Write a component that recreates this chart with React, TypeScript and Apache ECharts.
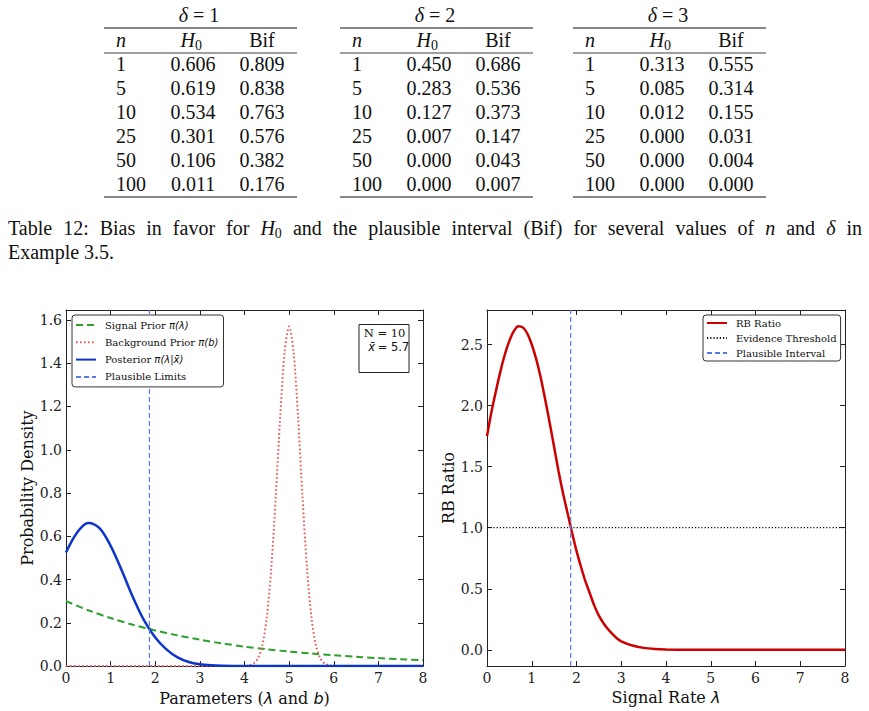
import React, { useEffect, useRef } from "react";
import * as echarts from "echarts";

const PAGE_W = 869;
const PAGE_H = 711;

// ---- Table 12 values ----
const nValues = [1, 5, 10, 25, 50, 100];
const deltaValues = [1, 2, 3];
const h0ByDelta = [
  [0.606, 0.619, 0.534, 0.301, 0.106, 0.011],
  [0.45, 0.283, 0.127, 0.007, 0.0, 0.0],
  [0.313, 0.085, 0.012, 0.0, 0.0, 0.0],
];
const bifByDelta = [
  [0.809, 0.838, 0.763, 0.576, 0.382, 0.176],
  [0.686, 0.536, 0.373, 0.147, 0.043, 0.007],
  [0.555, 0.314, 0.155, 0.031, 0.004, 0.0],
];

// ---- Left panel: priors and posterior ----
const signalPriorX = [0, 0.5, 1, 1.5, 2, 2.5, 3, 3.5, 4, 4.5, 5, 5.5, 6, 6.5, 7, 7.5, 8];
const signalPrior = [0.3, 0.258, 0.222, 0.191, 0.165, 0.142, 0.122, 0.105, 0.09, 0.078, 0.067, 0.058, 0.05, 0.043, 0.037, 0.032, 0.027];

const backgroundX = [0, 1, 2, 3, 4, 4.1, 4.2, 4.3, 4.4, 4.5, 4.6, 4.7, 4.8, 4.9, 5.0, 5.1, 5.2, 5.3, 5.4, 5.5, 5.6, 5.7, 5.8, 5.9, 6, 7, 8];
const backgroundPrior = [0, 0, 0, 0, 0, 0.003, 0.011, 0.035, 0.096, 0.226, 0.454, 0.782, 1.151, 1.452, 1.57, 1.452, 1.151, 0.782, 0.454, 0.226, 0.096, 0.035, 0.011, 0.003, 0, 0, 0];

const posteriorX = [0, 0.25, 0.5, 0.75, 1, 1.25, 1.5, 1.75, 2, 2.25, 2.5, 2.75, 3, 3.25, 3.5, 4, 5, 6, 7, 8];
const posterior = [0.525, 0.618, 0.662, 0.638, 0.556, 0.442, 0.318, 0.211, 0.132, 0.077, 0.04, 0.019, 0.0085, 0.0035, 0.0015, 0.0002, 0, 0, 0, 0];

const plausibleLimit = 1.87;
const sampleSize = 10;
const sampleMean = 5.7;

// ---- Right panel: relative belief ratio ----
const rbX = [0, 0.1, 0.2, 0.3, 0.4, 0.5, 0.6, 0.7, 0.8, 0.9, 1.0, 1.1, 1.2, 1.3, 1.4, 1.5, 1.6, 1.7, 1.8, 1.9, 2.0, 2.1, 2.2, 2.3, 2.4, 2.5, 2.6, 2.7, 2.8, 2.9, 3.0, 3.25, 3.5, 3.75, 4, 4.5, 5, 6, 7, 8];
const rbRatio = [1.75, 1.95, 2.12, 2.28, 2.42, 2.53, 2.61, 2.65, 2.64, 2.59, 2.5, 2.38, 2.23, 2.05, 1.86, 1.66, 1.46, 1.28, 1.12, 0.96, 0.81, 0.68, 0.56, 0.46, 0.36, 0.28, 0.22, 0.17, 0.13, 0.095, 0.07, 0.035, 0.016, 0.007, 0.003, 0.0005, 0, 0, 0, 0];
const evidenceThreshold = 1;

const leftTicks = [0, 0.2, 0.4, 0.6, 0.8, 1.0, 1.2, 1.4, 1.6];
const rightTicks = [0, 0.5, 1.0, 1.5, 2.0, 2.5];

const LEFT_Y = [0, 1.646];
const RIGHT_Y = [-0.1325, 2.7825];

const SERIF = "DejaVu Serif";
const MATH = "DejaVu Sans";
const TEX = "Liberation Serif";
const INK = "#222";

const pairs = (xs: number[], ys: number[]) => xs.map((x, i) => [x, ys[i]]);

const richStyles = (size: number, lh?: number) => ({
  r: { fontFamily: SERIF, fontSize: size, color: "#111", lineHeight: lh },
  m: { fontFamily: MATH, fontStyle: "italic", fontSize: size, color: "#111", lineHeight: lh },
});

const legendRich: Record<string, string> = {
  "Signal Prior π(λ)": "{r|Signal Prior }{m|π(λ)}",
  "Background Prior π(b)": "{r|Background Prior }{m|π(b)}",
  "Posterior π(λ|x̄)": "{r|Posterior }{m|π(λ|x̄)}",
  "Plausible Limits": "{r|Plausible Limits}",
  "RB Ratio": "{r|RB Ratio}",
  "Evidence Threshold": "{r|Evidence Threshold}",
  "Plausible Interval": "{r|Plausible Interval}",
};

function xAxes(grid: number, name: string) {
  const common = {
    gridIndex: grid,
    type: "value",
    min: 0,
    max: 8,
    interval: 1,
    splitLine: { show: false },
    axisLine: { show: true, onZero: false, lineStyle: { color: INK, width: 1 } },
    axisTick: { show: true, inside: true, length: 5, lineStyle: { color: INK } },
  };
  return [
    {
      ...common,
      position: "bottom",
      axisLabel: { show: true, fontFamily: SERIF, fontSize: 14, color: INK, margin: 5 },
      name,
      nameLocation: "middle",
      nameGap: 19,
      nameTextStyle: { fontFamily: SERIF, fontSize: 16, color: "#111", rich: richStyles(16) },
    },
    { ...common, position: "top", axisLabel: { show: false } },
  ];
}

function yAxes(grid: number, ext: number[], ticks: number[], name: string, gap: number) {
  const common = {
    gridIndex: grid,
    type: "value",
    min: ext[0],
    max: ext[1],
    splitLine: { show: false },
    axisLine: { show: true, onZero: false, lineStyle: { color: INK, width: 1 } },
    axisTick: { show: true, inside: true, length: 5, customValues: ticks, lineStyle: { color: INK } },
  };
  return [
    {
      ...common,
      position: "left",
      axisLabel: {
        show: true,
        customValues: ticks,
        fontFamily: SERIF,
        fontSize: 14,
        color: INK,
        margin: 4,
        formatter: (v: number) => v.toFixed(1),
      },
      name,
      nameLocation: "middle",
      nameGap: gap,
      nameTextStyle: { fontFamily: SERIF, fontSize: 16, color: "#111" },
    },
    { ...common, position: "right", axisLabel: { show: false } },
  ];
}

type Piece = { t: string; k: "r" | "i" | "s" };

function buildTextGraphics(): any[] {
  const g: any[] = [];
  const txt = (
    text: string,
    x: number,
    y: number,
    size: number,
    align: string,
    italic = false,
    family = TEX
  ) => ({
    type: "text",
    x,
    y,
    style: {
      text,
      fontFamily: family,
      fontSize: size,
      fontStyle: italic ? "italic" : "normal",
      fill: "#111",
      align,
      textAlign: align,
      verticalAlign: "middle",
      textVerticalAlign: "middle",
    },
  });
  const rule = (x1: number, x2: number, y: number, w: number) => ({
    type: "line",
    shape: { x1, y1: y, x2, y2: y },
    style: { stroke: "#111", lineWidth: w },
  });

  // three booktabs tables
  const tableLeft = [104, 340, 573];
  const tableWidth = 193;
  const rowY = [64, 88, 112, 136, 160, 184];
  deltaValues.forEach((d, ti) => {
    const L = tableLeft[ti];
    g.push(txt("δ", L + 84, 15, 20, "right", true));
    g.push(txt(` = ${d}`, L + 84, 15, 20, "left"));
    g.push(rule(L, L + tableWidth, 28, 1.2));
    g.push(rule(L, L + tableWidth, 53, 0.8));
    g.push(rule(L, L + tableWidth, 197, 1.2));
    g.push(txt("n", L + 12, 40, 20, "left", true));
    g.push(txt("H", L + 91, 40, 20, "right", true));
    g.push(txt("0", L + 91, 45, 14, "left"));
    g.push(txt("Bif", L + 158, 40, 20, "center"));
    nValues.forEach((n, ri) => {
      g.push(txt(String(n), L + 12, rowY[ri], 20, "left"));
      g.push(txt(h0ByDelta[ti][ri].toFixed(3), L + 89, rowY[ri], 20, "center"));
      g.push(txt(bifByDelta[ti][ri].toFixed(3), L + 158, rowY[ri], 20, "center"));
    });
  });

  // justified caption
  const line1: Piece[][] = [
    [{ t: "Table", k: "r" }],
    [{ t: "12:", k: "r" }],
    [{ t: "Bias", k: "r" }],
    [{ t: "in", k: "r" }],
    [{ t: "favor", k: "r" }],
    [{ t: "for", k: "r" }],
    [{ t: "H", k: "i" }, { t: "0", k: "s" }],
    [{ t: "and", k: "r" }],
    [{ t: "the", k: "r" }],
    [{ t: "plausible", k: "r" }],
    [{ t: "interval", k: "r" }],
    [{ t: "(Bif)", k: "r" }],
    [{ t: "for", k: "r" }],
    [{ t: "several", k: "r" }],
    [{ t: "values", k: "r" }],
    [{ t: "of", k: "r" }],
    [{ t: "n", k: "i" }],
    [{ t: "and", k: "r" }],
    [{ t: "δ", k: "i" }],
    [{ t: "in", k: "r" }],
  ];
  const canvas = document.createElement("canvas");
  const ctx = canvas.getContext("2d")!;
  const pieceWidth = (p: Piece) => {
    const size = p.k === "s" ? 14 : 20;
    ctx.font = `${p.k === "i" ? "italic " : ""}${size}px "${TEX}"`;
    return ctx.measureText(p.t).width;
  };
  const wordWidths = line1.map((w) => w.reduce((s, p) => s + pieceWidth(p), 0));
  const total = wordWidths.reduce((a, b) => a + b, 0);
  const x0 = 8;
  const x1 = 862;
  const gap = (x1 - x0 - total) / (line1.length - 1);
  let cx = x0;
  line1.forEach((word, wi) => {
    let px = cx;
    word.forEach((p) => {
      if (p.k === "s") g.push(txt(p.t, px, 233, 14, "left"));
      else g.push(txt(p.t, px, 228, 20, "left", p.k === "i"));
      px += pieceWidth(p);
    });
    cx += wordWidths[wi] + gap;
  });
  g.push(txt("Example 3.5.", 8, 252, 20, "left"));

  // annotation box in the left panel
  g.push({
    type: "rect",
    z: 100,
    shape: { x: 359, y: 324.5, width: 50, height: 48 },
    style: { fill: "#fff", stroke: INK, lineWidth: 1 },
  });
  g.push({ ...txt(`N = ${sampleSize}`, 384.5, 332.5, 11.5, "center", false, SERIF), z: 101 });
  g.push({ ...txt("x̄", 375, 347, 11.5, "right", true, MATH), z: 101 });
  g.push({ ...txt(` = ${sampleMean}`, 374, 347, 11.5, "left", false, MATH), z: 101 });
  return g;
}

export default function App() {
  const ref = useRef<HTMLDivElement>(null);

  useEffect(() => {
    if (!ref.current) return;
    const chart = echarts.init(ref.current, undefined, { renderer: "svg" });

    const legendBase = {
      orient: "vertical",
      selectedMode: false,
      backgroundColor: "#fff",
      borderColor: "#333",
      borderWidth: 1,
      borderRadius: 3,
      itemWidth: 20,
      itemHeight: 10,
      // line-only keys: hide the marker drawn on top of each key line
      itemStyle: { opacity: 0, borderWidth: 0 },
      formatter: (name: string) => legendRich[name] ?? name,
    };

    const option: any = {
      animation: false,
      backgroundColor: "#fff",
      grid: [
        { left: 66, top: 310, width: 357, height: 357, containLabel: false },
        { left: 487, top: 310, width: 358, height: 356, containLabel: false },
      ],
      xAxis: [
        ...xAxes(0, "{r|Parameters (}{m|λ}{r| and }{m|b}{r|)}"),
        ...xAxes(1, "{r|Signal Rate }{m|λ}"),
      ],
      yAxis: [
        ...yAxes(0, LEFT_Y, leftTicks, "Probability Density", 30),
        ...yAxes(1, RIGHT_Y, rightTicks, "RB Ratio", 29),
      ],
      legend: [
        {
          ...legendBase,
          left: 72,
          top: 315,
          padding: [3, 5, 3, 3],
          itemGap: 3.3,
          data: ["Signal Prior π(λ)", "Background Prior π(b)", "Posterior π(λ|x̄)", "Plausible Limits"],
          textStyle: { fontSize: 10, lineHeight: 14, padding: [0, 0, 0, 4], rich: richStyles(10, 14) },
        },
        {
          ...legendBase,
          left: 703,
          top: 315,
          padding: [2, 4, 2, 3],
          itemGap: 3,
          data: ["RB Ratio", "Evidence Threshold", "Plausible Interval"],
          textStyle: { fontSize: 10, lineHeight: 12, padding: [0, 0, 0, 4], rich: richStyles(10, 12) },
        },
      ],
      series: [
        {
          name: "Signal Prior π(λ)",
          type: "line",
          xAxisIndex: 0,
          yAxisIndex: 0,
          data: pairs(signalPriorX, signalPrior),
          smooth: 0.3,
          symbol: "none",
          color: "#2ca02c",
          lineStyle: { color: "#2ca02c", width: 2, type: [7, 4] },
        },
        {
          name: "Background Prior π(b)",
          type: "line",
          xAxisIndex: 0,
          yAxisIndex: 0,
          data: pairs(backgroundX, backgroundPrior),
          smooth: 0.3,
          symbol: "none",
          color: "#e8595b",
          lineStyle: { color: "#e8595b", width: 2, type: [1.6, 2.4] },
        },
        {
          name: "Posterior π(λ|x̄)",
          type: "line",
          xAxisIndex: 0,
          yAxisIndex: 0,
          data: pairs(posteriorX, posterior),
          smooth: 0.35,
          symbol: "none",
          color: "#0b36c9",
          lineStyle: { color: "#0b36c9", width: 2.5 },
        },
        {
          name: "Plausible Limits",
          type: "line",
          xAxisIndex: 0,
          yAxisIndex: 0,
          data: [
            [plausibleLimit, LEFT_Y[0]],
            [plausibleLimit, LEFT_Y[1]],
          ],
          symbol: "none",
          color: "#5a7be6",
          lineStyle: { color: "#5a7be6", width: 1.2, type: [5, 3] },
        },
        {
          name: "RB Ratio",
          type: "line",
          xAxisIndex: 2,
          yAxisIndex: 2,
          data: pairs(rbX, rbRatio),
          smooth: 0.3,
          symbol: "none",
          color: "#cc0000",
          lineStyle: { color: "#cc0000", width: 2.5 },
        },
        {
          name: "Evidence Threshold",
          type: "line",
          xAxisIndex: 2,
          yAxisIndex: 2,
          data: [
            [0, evidenceThreshold],
            [8, evidenceThreshold],
          ],
          symbol: "none",
          color: "#111",
          lineStyle: { color: "#111", width: 1.2, type: [1.2, 2] },
        },
        {
          name: "Plausible Interval",
          type: "line",
          xAxisIndex: 2,
          yAxisIndex: 2,
          data: [
            [plausibleLimit, RIGHT_Y[0]],
            [plausibleLimit, RIGHT_Y[1]],
          ],
          symbol: "none",
          color: "#5a7be6",
          lineStyle: { color: "#5a7be6", width: 1.2, type: [5, 3] },
        },
      ],
      graphic: { elements: buildTextGraphics() },
    };

    chart.setOption(option);
    return () => chart.dispose();
  }, []);

  return (
    <div
      ref={ref}
      style={{ position: "absolute", left: 0, top: 0, width: PAGE_W, height: PAGE_H }}
    />
  );
}
